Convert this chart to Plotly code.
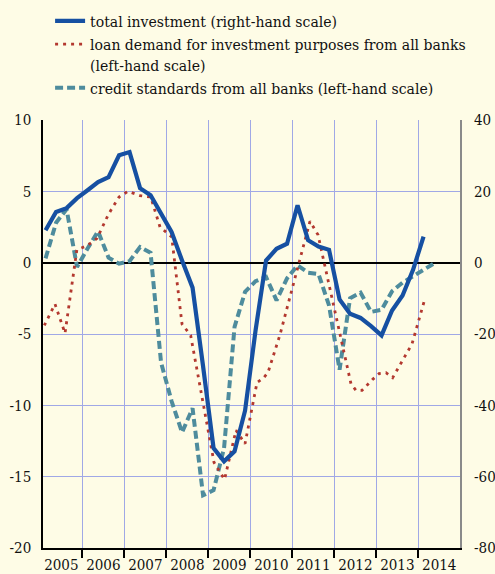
import plotly.graph_objects as go

# ---------------- data ----------------
quarters = [f"{y}Q{q}" for y in range(2005, 2015) for q in range(1, 5)]

# total investment (right-hand scale), quarterly 2005Q1-2014Q1
investment = [9.1, 14.2, 15.3, 18.1, 20.3, 22.6, 24.0, 30.1, 31.0, 20.9,
              18.9, 13.5, 8.6, 0.6, -7.0, -29.0, -52.0, -55.7, -52.9, -41.5,
              -19.0, 0.6, 3.9, 5.3, 16.1, 6.3, 4.5, 3.6, -10.3, -14.3,
              -15.5, -17.8, -20.4, -13.4, -9.2, -2.0, 7.3]

# credit standards from all banks (left-hand scale), quarterly 2005Q1-2014Q2
credit = [0.3, 2.8, 3.75, -0.3, 1.0, 2.2, 0.35, -0.07, 0.1, 1.1,
          0.7, -7.0, -9.7, -11.9, -10.2, -16.3, -15.95, -13.0, -4.5, -2.05,
          -1.3, -1.0, -2.64, -1.1, -0.19, -0.7, -0.8, -3.0, -7.5, -2.5,
          -2.1, -3.45, -3.3, -2.0, -1.4, -0.95, -0.45, -0.05]

# loan demand for investment purposes (left-hand scale), turning points
loan_x = [2005.095, 2005.35, 2005.588, 2005.87, 2006.124, 2006.35, 2006.624,
          2006.874, 2007.088, 2007.374, 2007.629, 2007.85, 2008.129, 2008.374,
          2008.58, 2009.136, 2009.386, 2009.66, 2009.874, 2010.16, 2010.31,
          2010.421, 2010.707, 2011.421, 2011.612, 2012.398, 2012.517, 2012.66,
          2012.914, 2013.064, 2013.231, 2013.39, 2013.85, 2014.16]
loan = [-4.4, -2.9, -4.95, 0.9, 1.2, 1.7, 3.4,
        4.6, 5.0, 4.7, 4.6, 2.5, 1.8, -4.3,
        -5.1, -14.0, -15.2, -11.75, -12.7, -8.4, -8.1,
        -7.7, -5.05, 2.9, 1.95, -8.5, -8.95, -8.95,
        -8.18, -7.78, -7.71, -8.06, -5.7, -2.5]

years = list(range(2005, 2015))
left_ticks = [-20, -15, -10, -5, 0, 5, 10]
right_ticks = [-80, -60, -40, -20, 0, 20, 40]


def qpos(label):
    y, q = label.split("Q")
    return int(y) + (int(q) - 0.5) / 4


inv_x = [qpos(q) for q in quarters[:len(investment)]]
cred_x = [qpos(q) for q in quarters[:len(credit)]]

BLUE = "#1650A2"
RED = "#B3382F"
TEAL = "#4E8C9D"
GRID = "#A0A8E6"
BG = "#FEFCE6"
FONT = "DejaVu Serif Condensed, DejaVu Serif"

fig = go.Figure()
fig.add_trace(go.Scatter(
    x=cred_x, y=credit, mode="lines", yaxis="y",
    name="credit standards from all banks (left-hand scale)",
    line=dict(color=TEAL, width=4, dash="8px,4px")))
fig.add_trace(go.Scatter(
    x=loan_x, y=loan, mode="lines", yaxis="y",
    name="loan demand for investment purposes from all banks<br>(left-hand scale)",
    line=dict(color=RED, width=2.8, dash="3px,5px")))
fig.add_trace(go.Scatter(
    x=inv_x, y=investment, mode="lines", yaxis="y2",
    name="total investment (right-hand scale)",
    line=dict(color=BLUE, width=4.2)))

# white band just above the zero line
fig.add_shape(type="rect", xref="paper", yref="y", x0=0, x1=1, y0=0.06, y1=0.24,
              fillcolor=BG, line=dict(width=0), layer="below")

fig.update_layout(
    width=495, height=574,
    margin=dict(l=43, r=35, t=120, b=26, autoexpand=False),
    paper_bgcolor=BG, plot_bgcolor=BG,
    font=dict(family=FONT, size=15, color="#111"),
    showlegend=True,
    legend=dict(x=0.017, y=1.2705, xanchor="left", yanchor="top",
                traceorder="reversed", valign="top", itemwidth=30,
                bgcolor="rgba(0,0,0,0)", font=dict(family=FONT, size=15.6, color="#111"),
                tracegroupgap=0),
    xaxis=dict(range=[2005.064, 2014.993], tickmode="array",
               tickvals=[y + 0.5 for y in years], ticktext=[str(y) for y in years],
               ticks="", showgrid=False, zeroline=False,
               showline=True, linecolor="black", linewidth=1.5,
               ticklabelstandoff=2,
               minor=dict(tickmode="array", tickvals=[y + 1 for y in years],
                          ticks="outside", ticklen=8, tickwidth=1.5, tickcolor="black",
                          showgrid=True, gridcolor=GRID, gridwidth=1)),
    yaxis=dict(range=[-20, 10], tickmode="array", tickvals=left_ticks,
               ticktext=[str(v) for v in left_ticks],
               ticks="", showgrid=True, gridcolor=GRID, gridwidth=1,
               zeroline=True, zerolinecolor="black", zerolinewidth=1.6,
               showline=True, linecolor="black", linewidth=1.5,
               ticklabelstandoff=7),
    yaxis2=dict(range=[-80, 40], tickmode="array", tickvals=right_ticks,
                ticktext=[str(v) for v in right_ticks],
                overlaying="y", side="right", ticks="", showgrid=False,
                zeroline=False, showline=True, linecolor="#8a8a8a", linewidth=2,
                ticklabelstandoff=9),
)

fig.write_html("out.html", config={"displayModeBar": False},
               post_script="document.body.style.margin='0';document.body.style.background='%s';" % BG)
